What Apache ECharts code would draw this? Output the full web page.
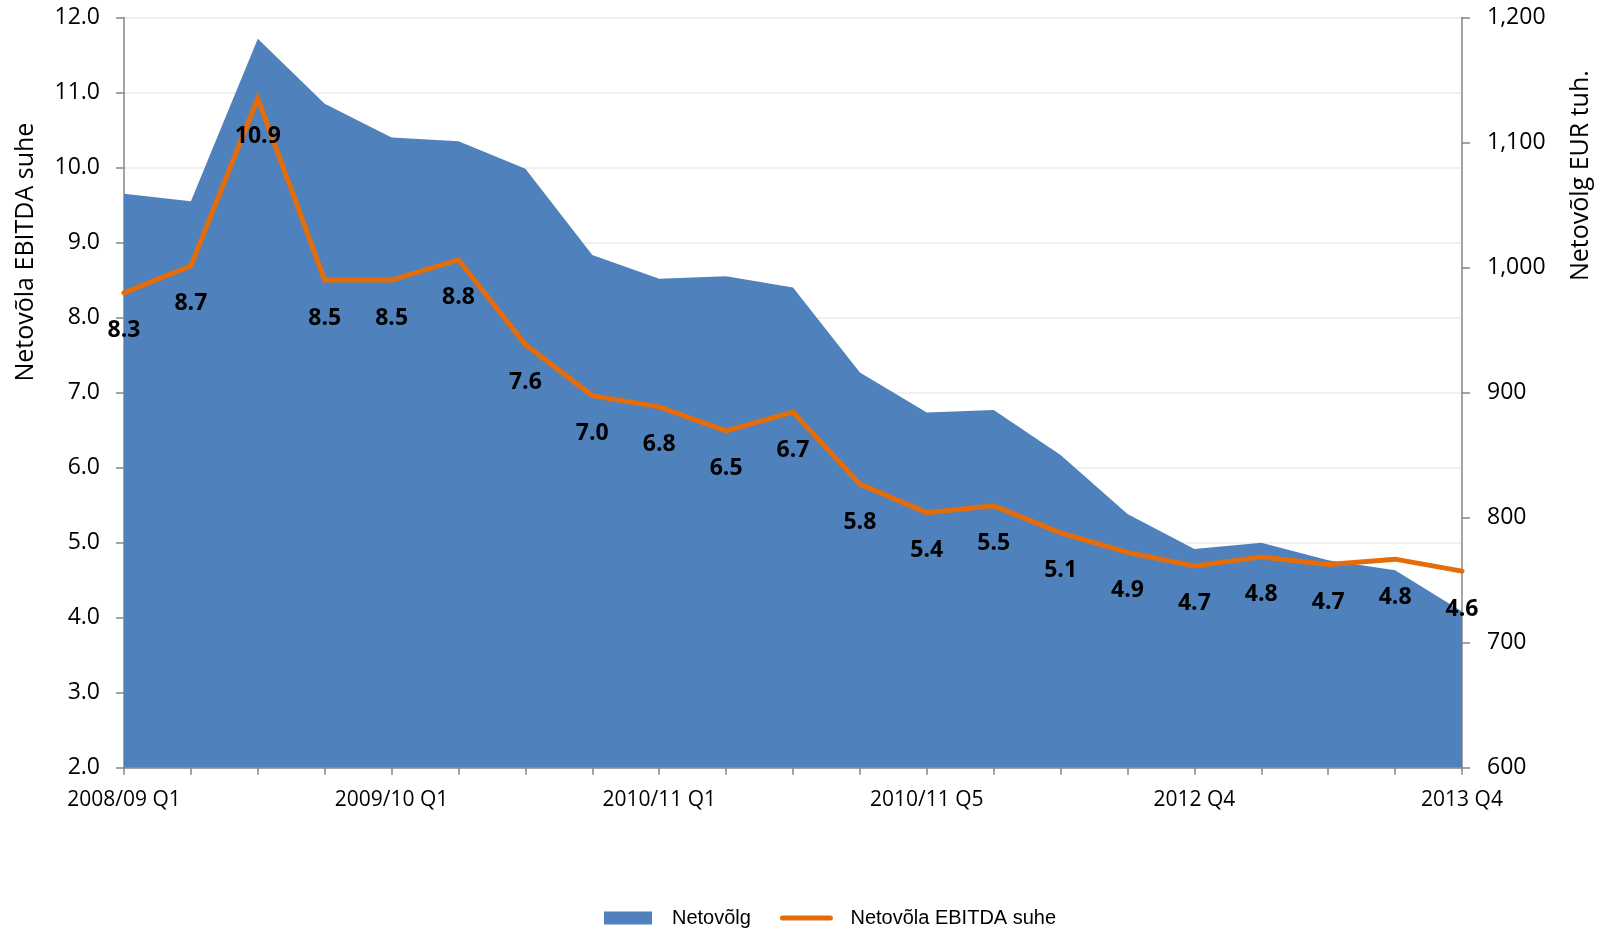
<!DOCTYPE html>
<html>
<head>
<meta charset="utf-8">
<script src="https://cdn.jsdelivr.net/npm/echarts@6/dist/echarts.min.js"></script>
<style>
html,body{margin:0;padding:0;background:#fff;}
#c{width:1603px;height:929px;}
</style>
</head>
<body>
<div id="c"></div>
<script>
const categories = [
  '2008/09 Q1','2008/09 Q2','2008/09 Q3','2008/09 Q4',
  '2009/10 Q1','2009/10 Q2','2009/10 Q3','2009/10 Q4',
  '2010/11 Q1','2010/11 Q2','2010/11 Q3','2010/11 Q4','2010/11 Q5',
  '2012 Q1','2012 Q2','2012 Q3','2012 Q4',
  '2013 Q1','2013 Q2','2013 Q3','2013 Q4'
];
const netDebt = [1059,1053,1183,1131,1104,1101,1079,1010,991,993,984,916,884,886,850,803,775,780,766,758,725];
const debtToEbitda = [8.33,8.69,10.92,8.5,8.5,8.77,7.64,6.96,6.81,6.49,6.74,5.78,5.40,5.49,5.13,4.87,4.69,4.81,4.71,4.78,4.62];
const seriesNames = ['Netovõlg','Netovõla EBITDA suhe'];
const leftAxisName = 'Netovõla EBITDA suhe';
const rightAxisName = 'Netovõlg EUR tuh.';

const FONT = '"Open Sans", sans-serif';
const ORANGE = '#E46C0A';
const BLUE = '#4F81BD';
const chart = echarts.init(document.getElementById('c'), null, {renderer:'canvas'});
chart.setOption({
  animation:false,
  backgroundColor:'#ffffff',
  grid:{left:124, right:141, top:17.5, bottom:161.3, containLabel:false},
  legend:{
    left:599, top:903,
    itemWidth:48, itemHeight:13, itemGap:29,
    textStyle:{fontFamily:'"Liberation Sans", Arial, sans-serif', fontSize:20, color:'#000', padding:[0,0,0,15]},
    data:[
      {name:seriesNames[0], icon:'rect', itemStyle:{color:BLUE}},
      {name:seriesNames[1], itemStyle:{opacity:0}, lineStyle:{width:5, color:ORANGE, cap:'round'}}
    ]
  },
  xAxis:{
    type:'category', data:categories, boundaryGap:false,
    axisLine:{lineStyle:{color:'#868686', width:1.5}},
    axisTick:{show:true, interval:0, length:7, lineStyle:{color:'#868686', width:1.5}},
    axisLabel:{interval:3, margin:22, fontFamily:FONT, fontSize:21, color:'#000'},
    splitLine:{show:false}
  },
  yAxis:[
    {
      type:'value', min:2, max:12, interval:1, position:'left',
      name:leftAxisName, nameLocation:'middle', nameGap:86, nameRotate:90,
      nameTextStyle:{fontFamily:FONT, fontSize:25, color:'#000', padding:[0,0,0,281]},
      axisLine:{show:true, lineStyle:{color:'#868686', width:1.5}},
      axisTick:{show:true, length:8, lineStyle:{color:'#868686', width:1.5}},
      axisLabel:{margin:24, fontFamily:FONT, fontSize:23, color:'#000', formatter:v=>v.toFixed(1)},
      splitLine:{show:true, lineStyle:{color:'#EBEBEB', width:1.5}}
    },
    {
      type:'value', min:600, max:1200, interval:100, position:'right',
      name:rightAxisName, nameLocation:'middle', nameGap:106, nameRotate:90,
      nameTextStyle:{fontFamily:FONT, fontSize:25, color:'#000', padding:[0,0,0,434]},
      axisLine:{show:true, lineStyle:{color:'#868686', width:1.5}},
      axisTick:{show:true, length:8, lineStyle:{color:'#868686', width:1.5}},
      axisLabel:{margin:25, fontFamily:FONT, fontSize:23, color:'#000', formatter:v=>v.toLocaleString('en-US')},
      splitLine:{show:false}
    }
  ],
  series:[
    {
      name:seriesNames[0], type:'line', yAxisIndex:1, data:netDebt,
      symbol:'none', color:BLUE,
      lineStyle:{width:0, color:BLUE},
      areaStyle:{color:BLUE, opacity:1},
      z:1
    },
    {
      name:seriesNames[1], type:'line', yAxisIndex:0, data:debtToEbitda,
      symbol:'circle', symbolSize:1, showSymbol:true, showAllSymbol:true, color:ORANGE,
      itemStyle:{color:'rgba(0,0,0,0)', borderWidth:0},
      lineStyle:{width:5, color:ORANGE, cap:'round', join:'miter'},
      label:{show:true, position:'bottom', distance:26, fontFamily:FONT, fontWeight:'bold', fontSize:23, color:'#000', formatter:p=>p.value.toFixed(1)},
      labelLayout:{hideOverlap:false},
      z:3
    }
  ]
});
</script>
</body>
</html>
